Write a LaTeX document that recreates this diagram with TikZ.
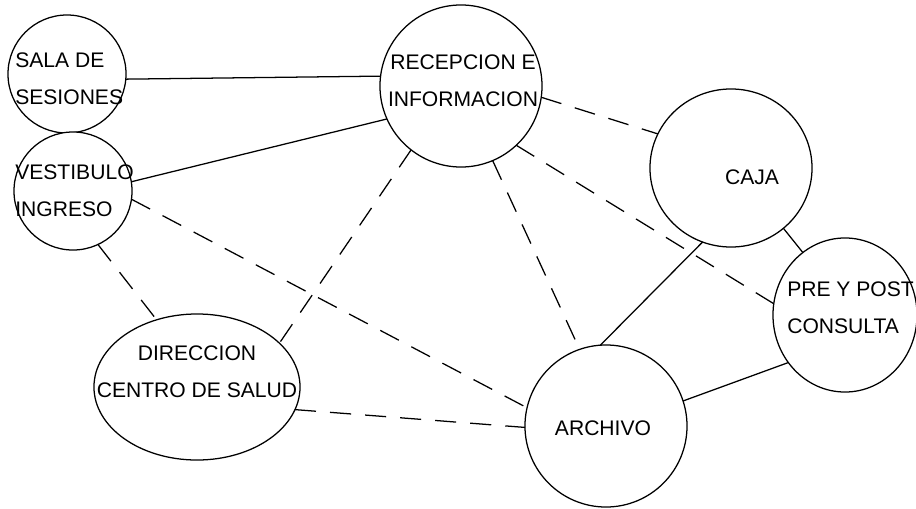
\documentclass[tikz,border=0pt]{standalone}
\usepackage{fontspec}
\setmainfont{Liberation Sans}
\usetikzlibrary{shapes.geometric}

\begin{document}
\begin{tikzpicture}[x=0.025cm, y=-0.025cm,
    room/.style={ellipse, draw=black, line width=0.9pt, fill=white, inner sep=0pt, outer sep=0pt},
    txt/.style={inner sep=0pt, font=\fontsize{15pt}{26pt}\selectfont},
    line/.style={draw=black, line width=0.9pt},
    dline/.style={line, dash pattern=on 15pt off 10pt}]

    \useasboundingbox (0,0) rectangle (916,508);

    \node [room, minimum width=2.95cm, minimum height=2.95cm] (sala) at (67,74) {};
    \node [room, minimum width=2.95cm, minimum height=2.95cm] (vest) at (73,191) {};
    \node [room, minimum width=4.05cm, minimum height=4.05cm] (recep) at (461,86) {};
    \node [room, minimum width=4.05cm, minimum height=3.95cm] (caja) at (731,168) {};
    \node [room, minimum width=3.6cm, minimum height=3.85cm] (pre) at (845,315) {};
    \node [room, minimum width=5.15cm, minimum height=3.65cm] (direc) at (197,387) {};
    \node [room, minimum width=4.05cm, minimum height=4.05cm] (arch) at (606,426) {};

    \node [txt, anchor=west, align=left] (salaT) at (15,79) {SALA DE\\SESIONES};
    \node [txt, anchor=west, align=left] (vestT) at (15,191) {VESTIBULO\\INGRESO};
    \node [txt, align=center] (recepT) at (463,81) {RECEPCION E\\INFORMACION};
    \node [txt] (cajaT) at (752,177) {CAJA};
    \node [txt, anchor=west, align=left] (preT) at (787,308) {PRE Y POST\\CONSULTA};
    \node [txt, align=center] (direcT) at (197,372) {DIRECCION\\CENTRO DE SALUD};
    \node [txt] (archT) at (603,428) {ARCHIVO};

    \path [line] (sala.-5) -- (recep.173);
    \path [line] (vest.9) -- (recep.204);
    \path [line] (caja.249) -- (arch.94);
    \path [line] (caja.-49) -- (pre.124);
    \path [line] (arch.18) -- (pre.220);
    \path [dline] (recep.-8) -- (caja.155);
    \path [dline] (recep.-47) -- (pre.171);
    \path [dline] (recep.-67) -- (arch.109);
    \path [dline] (recep.232) -- (direc.28);
    \path [dline] (vest.-65) -- (direc.121);
    \path [dline] (vest.-8) -- (arch.167);
    \path [dline] (direc.-13) -- (arch.181);
\end{tikzpicture}
\end{document}
